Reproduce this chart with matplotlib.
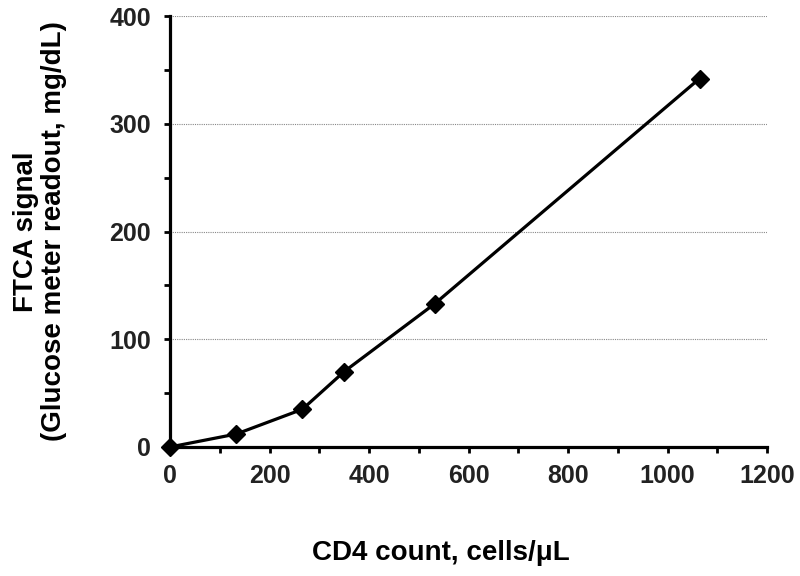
import matplotlib
matplotlib.use('Agg')
import matplotlib.pyplot as plt

plt.rcParams['font.family'] = ['Liberation Sans', 'DejaVu Sans']
plt.rcParams['font.weight'] = 'bold'

# CD4 count vs glucose meter readout
cd4 = [0, 133, 266, 350, 532, 1064]
signal = [0, 12, 35, 70, 133, 342]

fig = plt.figure(figsize=(8, 5.76), dpi=100)
ax = fig.add_axes([0.2125, 0.224, 0.7465, 0.748])

ax.plot(cd4, signal, color='black', lw=2.3, marker='D', markersize=9, zorder=3, clip_on=False)

ax.set_xlim(0, 1200)
ax.set_ylim(0, 400)
ax.set_xticks(range(0, 1201, 200))
ax.set_xticks(range(0, 1201, 100), minor=True)
ax.set_yticks(range(0, 401, 100))
ax.set_yticks(range(0, 401, 50), minor=True)

ax.yaxis.grid(True, which='major', color='#888888', linestyle=(0, (1, 1)), lw=0.8)
ax.set_axisbelow(True)

for s in ['top', 'right']:
    ax.spines[s].set_visible(False)
for s in ['left', 'bottom']:
    ax.spines[s].set_linewidth(2.3)

ax.tick_params(which='both', direction='out', width=2, length=4.5, colors='black', labelsize=18)
ax.tick_params(axis='y', which='major', pad=9)
ax.tick_params(axis='x', which='major', pad=8)

for lab in ax.get_xticklabels() + ax.get_yticklabels():
    lab.set_fontweight('bold')
    lab.set_color('#222222')

ax.set_xlabel('CD4 count, cells/μL', fontsize=20, fontweight='bold')
ax.xaxis.label.set_va('center')
ax.xaxis.set_label_coords(0.454, -0.246)

ax.set_ylabel('FTCA signal\n(Glucose meter readout, mg/dL)', fontsize=20,
              fontweight='bold', linespacing=1.1)
ax.yaxis.label.set_va('center')
ax.yaxis.set_label_coords(-0.218, 0.5)

fig.savefig('out.png', dpi=100)
